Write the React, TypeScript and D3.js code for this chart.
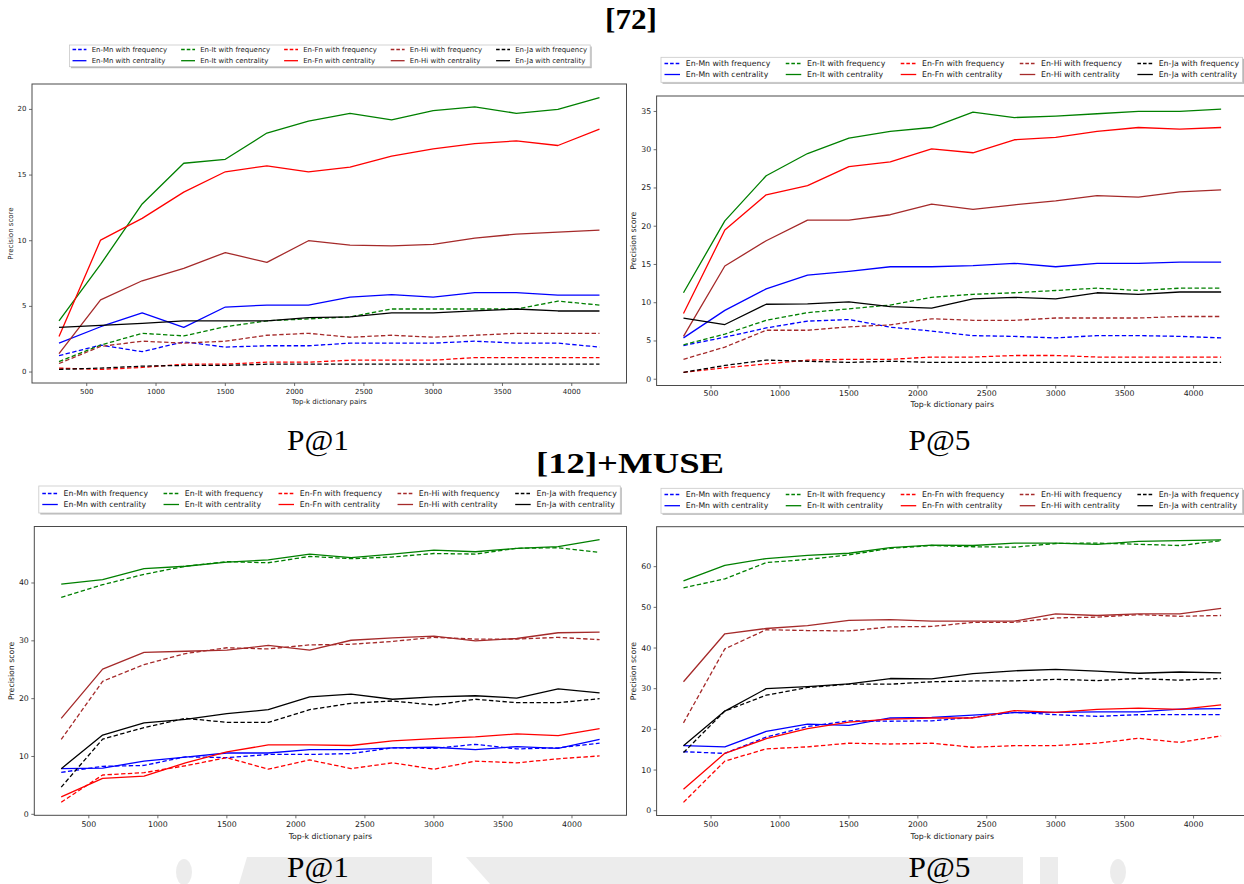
import React from 'react';
import * as d3 from 'd3';

// ---------- shared data ----------
const K = [300, 600, 900, 1200, 1500, 1800, 2100, 2400, 2700, 3000, 3300, 3600, 3900, 4200];
const X_TICKS = [500, 1000, 1500, 2000, 2500, 3000, 3500, 4000];
const PAIRS = ['En-Mn', 'En-It', 'En-Fn', 'En-Hi', 'En-Ja'];
const PAIR_COLORS = ['#0000ff', '#008000', '#ff0000', '#a52a2a', '#000000'];

// ---------- [72] P@1 ----------
const a_mn_freq = [1.25, 2.05, 1.55, 2.3, 1.9, 2.0, 2.0, 2.2, 2.2, 2.2, 2.35, 2.2, 2.2, 1.9];
const a_mn_cent = [2.2, 3.45, 4.5, 3.4, 4.95, 5.1, 5.1, 5.7, 5.9, 5.7, 6.05, 6.05, 5.85, 5.85];
const a_it_freq = [0.8, 2.05, 2.95, 2.75, 3.45, 3.9, 4.05, 4.2, 4.8, 4.8, 4.8, 4.8, 5.4, 5.1];
const a_it_cent = [3.9, 8.2, 12.8, 15.9, 16.2, 18.2, 19.1, 19.7, 19.2, 19.9, 20.2, 19.7, 20.0, 20.9];
const a_fn_freq = [0.3, 0.2, 0.35, 0.6, 0.6, 0.75, 0.75, 0.9, 0.9, 0.9, 1.1, 1.1, 1.1, 1.1];
const a_fn_cent = [2.7, 10.05, 11.7, 13.7, 15.25, 15.7, 15.25, 15.6, 16.45, 17.0, 17.4, 17.6, 17.25, 18.5];
const a_hi_freq = [0.65, 1.95, 2.35, 2.2, 2.35, 2.8, 2.95, 2.65, 2.8, 2.65, 2.8, 2.95, 2.95, 2.95];
const a_hi_cent = [1.4, 5.5, 6.95, 7.9, 9.1, 8.35, 10.0, 9.67, 9.6, 9.72, 10.2, 10.5, 10.65, 10.8];
const a_ja_freq = [0.2, 0.3, 0.45, 0.5, 0.5, 0.6, 0.6, 0.6, 0.6, 0.6, 0.6, 0.6, 0.6, 0.6];
const a_ja_cent = [3.4, 3.55, 3.7, 3.9, 3.9, 3.9, 4.15, 4.2, 4.5, 4.5, 4.65, 4.8, 4.65, 4.65];
const a_yticks = [0, 5, 10, 15, 20];

// ---------- [72] P@5 ----------
const b_mn_freq = [4.4, 5.5, 6.7, 7.6, 7.8, 6.8, 6.3, 5.7, 5.6, 5.4, 5.7, 5.7, 5.6, 5.4];
const b_mn_cent = [5.4, 9.0, 11.8, 13.6, 14.1, 14.7, 14.7, 14.85, 15.15, 14.7, 15.15, 15.15, 15.3, 15.3];
const b_it_freq = [4.5, 5.9, 7.7, 8.7, 9.2, 9.7, 10.7, 11.1, 11.3, 11.6, 11.9, 11.6, 11.9, 11.9];
const b_it_cent = [11.3, 20.7, 26.6, 29.5, 31.5, 32.4, 32.9, 34.9, 34.2, 34.4, 34.7, 35.0, 35.0, 35.3];
const b_fn_freq = [0.9, 1.5, 2.0, 2.5, 2.6, 2.6, 2.9, 2.9, 3.1, 3.1, 2.9, 2.9, 2.9, 2.9];
const b_fn_cent = [8.6, 19.5, 24.1, 25.3, 27.8, 28.4, 30.1, 29.6, 31.3, 31.6, 32.4, 32.9, 32.7, 32.9];
const b_hi_freq = [2.6, 4.2, 6.4, 6.4, 6.85, 7.1, 7.9, 7.7, 7.7, 8.0, 8.0, 8.0, 8.2, 8.2];
const b_hi_cent = [5.6, 14.8, 18.1, 20.8, 20.8, 21.5, 22.9, 22.2, 22.8, 23.3, 24.0, 23.8, 24.5, 24.75];
const b_ja_freq = [0.9, 1.8, 2.5, 2.35, 2.2, 2.35, 2.2, 2.2, 2.2, 2.2, 2.2, 2.2, 2.2, 2.2];
const b_ja_cent = [8.0, 7.15, 9.8, 9.85, 10.1, 9.5, 9.3, 10.5, 10.7, 10.5, 11.3, 11.1, 11.4, 11.4];
const b_yticks = [0, 5, 10, 15, 20, 25, 30, 35];

// ---------- [12]+MUSE P@1 ----------
const c_mn_freq = [7.25, 8.3, 8.45, 9.95, 9.8, 10.35, 10.35, 10.5, 11.5, 11.4, 12.1, 11.3, 11.5, 12.3];
const c_mn_cent = [7.9, 8.0, 9.2, 9.9, 10.6, 10.6, 11.2, 11.2, 11.5, 11.6, 11.2, 11.7, 11.4, 12.95];
const c_it_freq = [37.5, 39.7, 41.5, 42.9, 43.7, 43.5, 44.6, 44.2, 44.5, 45.1, 45.0, 46.0, 46.1, 45.3];
const c_it_cent = [39.8, 40.6, 42.5, 42.9, 43.6, 44.0, 45.0, 44.4, 45.0, 45.7, 45.4, 46.0, 46.3, 47.5];
const c_fn_freq = [2.1, 6.8, 7.2, 8.4, 9.8, 7.8, 9.4, 7.9, 8.9, 7.8, 9.2, 8.9, 9.6, 10.1];
const c_fn_cent = [3.0, 6.2, 6.6, 8.9, 10.8, 12.0, 12.0, 11.9, 12.7, 13.1, 13.4, 13.9, 13.6, 14.8];
const c_hi_freq = [12.95, 23.0, 25.9, 27.8, 28.8, 28.6, 29.3, 29.4, 29.9, 30.6, 30.3, 30.3, 30.6, 30.2];
const c_hi_cent = [16.6, 25.1, 28.0, 28.2, 28.4, 29.2, 28.4, 30.1, 30.5, 30.8, 30.0, 30.4, 31.4, 31.5];
const c_ja_freq = [4.7, 13.0, 15.0, 16.6, 15.9, 15.9, 18.1, 19.2, 19.6, 18.9, 19.9, 19.3, 19.3, 20.0];
const c_ja_cent = [7.9, 13.7, 15.8, 16.4, 17.4, 18.1, 20.3, 20.8, 19.9, 20.3, 20.5, 20.1, 21.7, 21.0];
const c_yticks = [0, 10, 20, 30, 40];

// ---------- [12]+MUSE P@5 ----------
const d_mn_freq = [14.5, 14.1, 18.1, 20.7, 22.1, 22.0, 22.1, 22.95, 24.2, 23.6, 23.2, 23.6, 23.6, 23.6];
const d_mn_cent = [16.0, 15.7, 19.5, 21.3, 21.0, 22.8, 22.95, 23.5, 24.1, 24.2, 24.3, 24.3, 25.0, 25.1];
const d_it_freq = [54.8, 57.0, 61.0, 61.8, 62.9, 64.5, 65.2, 64.9, 64.8, 65.7, 65.8, 65.5, 65.2, 66.4];
const d_it_cent = [56.5, 60.3, 62.0, 62.8, 63.3, 64.7, 65.3, 65.2, 65.8, 65.8, 65.5, 66.2, 66.4, 66.6];
const d_fn_freq = [2.05, 12.2, 15.2, 15.7, 16.6, 16.4, 16.6, 15.6, 16.0, 16.0, 16.6, 17.8, 16.8, 18.4];
const d_fn_cent = [5.3, 14.1, 17.7, 20.2, 21.8, 22.5, 22.8, 22.8, 24.6, 24.2, 24.9, 25.2, 24.9, 26.0];
const d_hi_freq = [21.6, 39.8, 44.5, 44.3, 44.2, 45.2, 45.3, 46.3, 46.3, 47.4, 47.6, 48.2, 47.8, 48.0];
const d_hi_cent = [31.7, 43.5, 44.8, 45.5, 46.8, 47.0, 46.6, 46.6, 46.6, 48.4, 48.0, 48.4, 48.4, 49.75];
const d_ja_freq = [14.3, 24.5, 28.4, 30.3, 31.1, 31.1, 31.7, 31.9, 31.9, 32.3, 32.0, 32.5, 32.1, 32.5];
const d_ja_cent = [16.0, 24.5, 30.0, 30.5, 31.2, 32.5, 32.4, 33.7, 34.4, 34.75, 34.3, 33.8, 34.1, 33.9];
const d_yticks = [0, 10, 20, 30, 40, 50, 60];

type Series = { pair: number; kind: 'freq' | 'cent'; values: number[] };
const mk = (arrs: number[][]): Series[] =>
  arrs.map((values, i) => ({ pair: Math.floor(i / 2), kind: i % 2 === 0 ? 'freq' : 'cent', values }));

const seriesA = mk([a_mn_freq, a_mn_cent, a_it_freq, a_it_cent, a_fn_freq, a_fn_cent, a_hi_freq, a_hi_cent, a_ja_freq, a_ja_cent]);
const seriesB = mk([b_mn_freq, b_mn_cent, b_it_freq, b_it_cent, b_fn_freq, b_fn_cent, b_hi_freq, b_hi_cent, b_ja_freq, b_ja_cent]);
const seriesC = mk([c_mn_freq, c_mn_cent, c_it_freq, c_it_cent, c_fn_freq, c_fn_cent, c_hi_freq, c_hi_cent, c_ja_freq, c_ja_cent]);
const seriesD = mk([d_mn_freq, d_mn_cent, d_it_freq, d_it_cent, d_fn_freq, d_fn_cent, d_hi_freq, d_hi_cent, d_ja_freq, d_ja_cent]);

// ---------- layout ----------
type Cfg = {
  x0: number; x1: number; y0: number; y1: number; font: number;
  lx: number; ly: number; lh: number; rows: number[]; lfont: number;
  tickY: number; xLabelY: number; yLabelX: number; yticks: number[];
};
const panels: { cfg: Cfg; series: Series[] }[] = [
  { series: seriesA, cfg: { x0: 32, x1: 626.5, y0: 84, y1: 383, font: 7, lx: 69.4, ly: 45, lh: 21.7, rows: [49.5, 60.7], lfont: 6.95, tickY: 391.5, xLabelY: 401.5, yLabelX: 11.4, yticks: a_yticks } },
  { series: seriesB, cfg: { x0: 656.6, x1: 1248, y0: 96, y1: 385.5, font: 7.8, lx: 661, ly: 57.3, lh: 25, rows: [63.5, 74.5], lfont: 7.75, tickY: 393.5, xLabelY: 404.5, yLabelX: 633, yticks: b_yticks } },
  { series: seriesC, cfg: { x0: 34.3, x1: 626.5, y0: 526.5, y1: 815.3, font: 7.8, lx: 38.8, ly: 486, lh: 27, rows: [493.5, 504.5], lfont: 7.75, tickY: 824.5, xLabelY: 836, yLabelX: 11, yticks: c_yticks } },
  { series: seriesD, cfg: { x0: 656.6, x1: 1248, y0: 526.7, y1: 815.5, font: 7.8, lx: 661, ly: 488.3, lh: 25, rows: [494.5, 505.7], lfont: 7.75, tickY: 824.5, xLabelY: 836, yLabelX: 633, yticks: d_yticks } },
];

const SANS = '"DejaVu Sans", sans-serif';
const SERIF = '"Liberation Serif", "Times New Roman", serif';

let _ctx: CanvasRenderingContext2D | null = null;
function measure(text: string, size: number): number {
  if (!_ctx) _ctx = document.createElement('canvas').getContext('2d');
  if (!_ctx) return text.length * size * 0.55;
  _ctx.font = `${size}px "DejaVu Sans"`;
  return _ctx.measureText(text).width;
}

const xExt = d3.extent(K) as [number, number];
const xPad = (xExt[1] - xExt[0]) * 0.05;

function Panel({ cfg, series }: { cfg: Cfg; series: Series[] }) {
  const x = d3.scaleLinear().domain([xExt[0] - xPad, xExt[1] + xPad]).range([cfg.x0, cfg.x1]);
  const all = series.flatMap((s) => s.values);
  const [mn, mx] = d3.extent(all) as [number, number];
  const yPad = (mx - mn) * 0.05;
  const y = d3.scaleLinear().domain([mn - yPad, mx + yPad]).range([cfg.y1, cfg.y0]);
  const line = d3.line<number>().x((_, i) => x(K[i])).y((d) => y(d));
  const axisColor = '#4a4a4a';
  const textColor = '#222';

  // legend layout (matplotlib-like)
  const f = cfg.lfont;
  let cx = cfg.lx + 0.45 * f;
  const cols = PAIRS.map((p) => {
    const labels = [`${p} with frequency`, `${p} with centrality`];
    const tw = Math.max(...labels.map((l) => measure(l, f)));
    const col = { hx: cx, tx: cx + 2.75 * f, labels };
    cx += 2.75 * f + tw + 2 * f;
    return col;
  });
  const lw = cx - 2 * f + 0.45 * f - cfg.lx;

  const clipId = `clip-${Math.round(cfg.x0)}-${Math.round(cfg.y0)}`;
  return (
    <g>
      <defs>
        <clipPath id={clipId}>
          <rect x={cfg.x0} y={cfg.y0} width={cfg.x1 - cfg.x0} height={cfg.y1 - cfg.y0} />
        </clipPath>
      </defs>
      {/* lines */}
      <g clipPath={`url(#${clipId})`}>
        {series.map((s, i) => (
          <path
            key={i}
            d={line(s.values) || ''}
            fill="none"
            stroke={PAIR_COLORS[s.pair]}
            strokeWidth={1.3}
            strokeDasharray={s.kind === 'freq' ? '4.4,2.4' : undefined}
            strokeLinejoin="round"
          />
        ))}
      </g>
      {/* frame */}
      <rect x={cfg.x0} y={cfg.y0} width={cfg.x1 - cfg.x0} height={cfg.y1 - cfg.y0} fill="none" stroke={axisColor} strokeWidth={1} />
      {/* x ticks */}
      {X_TICKS.map((t) => (
        <g key={t}>
          <line x1={x(t)} x2={x(t)} y1={cfg.y1} y2={cfg.y1 + 3} stroke={axisColor} strokeWidth={0.8} />
          <text x={x(t)} y={cfg.tickY} fontSize={cfg.font} fontFamily={SANS} fill={textColor} textAnchor="middle" dominantBaseline="central">{t}</text>
        </g>
      ))}
      {/* y ticks */}
      {cfg.yticks.map((t) => (
        <g key={t}>
          <line x1={cfg.x0 - 3} x2={cfg.x0} y1={y(t)} y2={y(t)} stroke={axisColor} strokeWidth={0.8} />
          <text x={cfg.x0 - 5.5} y={y(t)} fontSize={cfg.font} fontFamily={SANS} fill={textColor} textAnchor="end" dominantBaseline="central">{t}</text>
        </g>
      ))}
      <text x={(cfg.x0 + cfg.x1) / 2} y={cfg.xLabelY} fontSize={cfg.font} fontFamily={SANS} fill={textColor} textAnchor="middle" dominantBaseline="central">Top-k dictionary pairs</text>
      <text transform={`translate(${cfg.yLabelX},${(cfg.y0 + cfg.y1) / 2}) rotate(-90)`} fontSize={cfg.font} fontFamily={SANS} fill={textColor} textAnchor="middle" dominantBaseline="central">Precision score</text>
      {/* legend */}
      <rect x={cfg.lx + 1.5} y={cfg.ly + 1.5} width={lw} height={cfg.lh} fill="#8a8a8a" opacity={0.6} />
      <rect x={cfg.lx} y={cfg.ly} width={lw} height={cfg.lh} fill="#fff" stroke="#c8c8c8" strokeWidth={0.8} />
      {cols.map((c, ci) =>
        c.labels.map((lab, ri) => (
          <g key={`${ci}-${ri}`}>
            <line
              x1={c.hx}
              x2={c.hx + 2 * f}
              y1={cfg.rows[ri]}
              y2={cfg.rows[ri]}
              stroke={PAIR_COLORS[ci]}
              strokeWidth={1.3}
              strokeDasharray={ri === 0 ? '3.6,2' : undefined}
            />
            <text x={c.tx} y={cfg.rows[ri]} fontSize={f} fontFamily={SANS} fill={textColor} dominantBaseline="central">{lab}</text>
          </g>
        ))
      )}
    </g>
  );
}

export default function App() {
  const wm = '#ececec';
  return (
    <svg
      width={1244}
      height={884}
      viewBox="0 0 1244 884"
      style={{ position: 'absolute', left: 0, top: 0, background: '#fff' }}
    >
      <rect x={0} y={0} width={1244} height={884} fill="#fff" />
      {/* faint watermark band at the bottom */}
      <g fill={wm}>
        <ellipse cx={184} cy={872} rx={8} ry={13} />
        <polygon points="247,857 432,857 432,884 239,884" />
        <polygon points="466,857 1023,857 1023,884 490,884" />
        <polygon points="1040,857 1058,857 1058,884 1040,884" />
        <ellipse cx={1118} cy={872} rx={8} ry={13} />
      </g>
      {panels.map((p, i) => (
        <Panel key={i} cfg={p.cfg} series={p.series} />
      ))}
      {/* headings and captions */}
      <text x={631} y={29} fontSize={29} fontWeight="bold" fontFamily={SERIF} textAnchor="middle" textLength={52} lengthAdjust="spacingAndGlyphs">[72]</text>
      <text x={318} y={450} fontSize={30} fontFamily={SERIF} textAnchor="middle" textLength={62} lengthAdjust="spacingAndGlyphs">P@1</text>
      <text x={939.5} y={450} fontSize={30} fontFamily={SERIF} textAnchor="middle" textLength={62} lengthAdjust="spacingAndGlyphs">P@5</text>
      <text x={630} y={473} fontSize={30} fontWeight="bold" fontFamily={SERIF} textAnchor="middle" textLength={188} lengthAdjust="spacingAndGlyphs">[12]+MUSE</text>
      <text x={318} y={877} fontSize={30} fontFamily={SERIF} textAnchor="middle" textLength={62} lengthAdjust="spacingAndGlyphs">P@1</text>
      <text x={939.5} y={877} fontSize={30} fontFamily={SERIF} textAnchor="middle" textLength={62} lengthAdjust="spacingAndGlyphs">P@5</text>
    </svg>
  );
}
